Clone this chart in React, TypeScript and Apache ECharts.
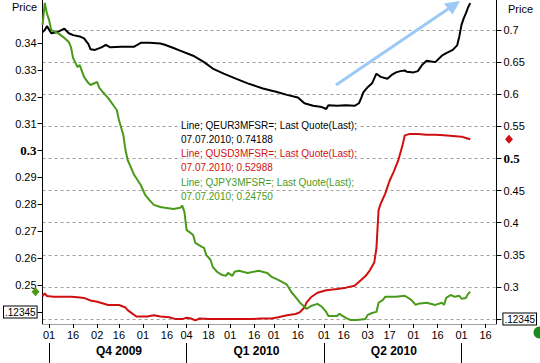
import React, { useEffect, useRef } from 'react';
import * as echarts from 'echarts';

// ---------- data ----------
const FIRST_DAY = '2009-09-28';
const LAST_DAY = '2010-07-23';
const HOLIDAYS = ['2009-12-24', '2009-12-25', '2009-12-31', '2010-01-01', '2010-04-02', '2010-04-05'];

function tradingDays(start: string, end: string, holidays: string[]): string[] {
  const out: string[] = [];
  const d = new Date(start + 'T00:00:00Z');
  const e = new Date(end + 'T00:00:00Z');
  while (d <= e) {
    const wd = d.getUTCDay();
    const s = d.toISOString().slice(0, 10);
    if (wd !== 0 && wd !== 6 && holidays.indexOf(s) < 0) out.push(s);
    d.setUTCDate(d.getUTCDate() + 1);
  }
  return out;
}
const categories = tradingDays(FIRST_DAY, LAST_DAY, HOLIDAYS);

const dayLabelDates = [
  '2009-10-01', '2009-10-16', '2009-11-02', '2009-11-16', '2009-12-01', '2009-12-16',
  '2010-01-04', '2010-01-18', '2010-02-01', '2010-02-16', '2010-03-01', '2010-03-16',
  '2010-04-01', '2010-04-16', '2010-05-03', '2010-05-17', '2010-06-01', '2010-06-16',
  '2010-07-01', '2010-07-16',
];
const quarterStartDates = ['2009-10-01', '2010-01-04', '2010-04-01', '2010-07-01'];
const quarterLabelDates = ['2009-11-16', '2010-02-17', '2010-05-19'];
const quarterLabels = ['Q4 2009', 'Q1 2010', 'Q2 2010'];

const leftTicks = [0.24, 0.25, 0.26, 0.27, 0.28, 0.29, 0.3, 0.31, 0.32, 0.33, 0.34];
const rightTicks = [0.25, 0.3, 0.35, 0.4, 0.45, 0.5, 0.55, 0.6, 0.65, 0.7];

// [trading-day index, value]
const eurPoints: [number, number][] = [
  [0, 0.697], [1, 0.700], [2, 0.706], [4, 0.695], [7, 0.697], [10, 0.702], [12, 0.695],
  [14, 0.692], [17, 0.690], [19, 0.687], [21, 0.678], [22, 0.670], [24, 0.669], [27, 0.673],
  [29, 0.677], [31, 0.673], [36, 0.674], [42, 0.674], [45, 0.680], [49, 0.680], [54, 0.679],
  [56, 0.677], [60, 0.672], [63, 0.668], [69, 0.660], [74, 0.650], [78, 0.640], [83, 0.632],
  [88, 0.625], [94, 0.617], [101, 0.609], [107, 0.604], [112, 0.599], [117, 0.595],
  [120, 0.586], [124, 0.582], [128, 0.580], [130, 0.577], [131, 0.583], [135, 0.582],
  [139, 0.583], [143, 0.582], [145, 0.586], [146, 0.594], [147, 0.603], [149, 0.611],
  [151, 0.617], [153, 0.632], [155, 0.627], [158, 0.624], [160, 0.630], [162, 0.634],
  [164, 0.636], [166, 0.637], [167, 0.635], [170, 0.634], [172, 0.636], [174, 0.646],
  [176, 0.652], [178, 0.651], [180, 0.650], [183, 0.660], [185, 0.664], [188, 0.669],
  [190, 0.676], [191, 0.690], [192, 0.708], [193, 0.718], [194, 0.726], [195, 0.735],
  [196, 0.74188],
];
const usdPoints: [number, number][] = [
  [0, 0.286], [1, 0.290], [2, 0.286], [5, 0.285], [9, 0.285], [13, 0.285], [16, 0.284],
  [19, 0.283], [22, 0.279], [25, 0.277], [27, 0.275], [30, 0.272], [35, 0.272], [38, 0.268],
  [39, 0.264], [41, 0.259], [43, 0.254], [48, 0.254], [51, 0.256], [54, 0.254], [58, 0.253],
  [61, 0.250], [64, 0.250], [66, 0.252], [68, 0.251], [70, 0.248], [72, 0.251], [76, 0.250],
  [87, 0.250], [96, 0.250], [100, 0.251], [105, 0.251], [108, 0.253], [112, 0.256],
  [116, 0.258], [118, 0.261], [120, 0.268], [121, 0.276], [123, 0.284], [126, 0.291],
  [130, 0.295], [135, 0.297], [139, 0.299], [143, 0.302], [146, 0.311], [148, 0.317],
  [150, 0.326], [152, 0.338], [153, 0.360], [154, 0.420], [155, 0.430], [157, 0.445],
  [159, 0.465], [161, 0.480], [163, 0.497], [165, 0.521], [166, 0.536], [168, 0.538],
  [172, 0.538], [176, 0.537], [180, 0.537], [184, 0.536], [188, 0.535], [192, 0.534],
  [194, 0.532], [196, 0.52988],
];
const jpyPoints: [number, number][] = [
  [0, 0.3467], [1, 0.3549], [2, 0.3510], [3, 0.3485], [4, 0.3448], [7, 0.3437], [10, 0.3419],
  [12, 0.3404], [13, 0.3385], [14, 0.3344], [16, 0.3311], [17, 0.3318], [19, 0.3274],
  [21, 0.3251], [22, 0.3244], [25, 0.3255], [26, 0.3233], [28, 0.3214], [30, 0.3196],
  [33, 0.3162], [34, 0.3151], [35, 0.3114], [37, 0.3058], [38, 0.3002], [39, 0.2965],
  [40, 0.2947], [42, 0.2909], [45, 0.2872], [47, 0.2835], [49, 0.2816], [51, 0.2798],
  [54, 0.2790], [56, 0.2787], [60, 0.2783], [63, 0.2787], [64, 0.2795], [65, 0.2772],
  [66, 0.2705], [69, 0.2686], [70, 0.2657], [73, 0.2642], [74, 0.2638], [75, 0.2612],
  [77, 0.2593], [78, 0.2567], [80, 0.2549], [82, 0.2538], [84, 0.2534], [85, 0.2545],
  [87, 0.2534], [88, 0.2549], [90, 0.2553], [94, 0.2545], [99, 0.2553], [103, 0.2545],
  [105, 0.2530], [108, 0.2519], [112, 0.2501], [114, 0.2474], [117, 0.2445], [118, 0.2434],
  [120, 0.2419], [121, 0.2411], [123, 0.2422], [126, 0.2430], [128, 0.2419], [130, 0.2400],
  [131, 0.2385], [135, 0.2385], [136, 0.2393], [139, 0.2378], [141, 0.2370], [144, 0.2370],
  [148, 0.2374], [149, 0.2389], [151, 0.2396], [153, 0.2400], [154, 0.2434], [156, 0.2445],
  [157, 0.2456], [162, 0.2456], [166, 0.2460], [169, 0.2445], [171, 0.2426], [172, 0.2430],
  [176, 0.2434], [180, 0.2426], [183, 0.2434], [184, 0.2426], [185, 0.2452], [187, 0.2463],
  [189, 0.2456], [191, 0.2460], [192, 0.2449], [194, 0.2452], [195, 0.2467], [196, 0.2475],
];

const legendLines = [
  { text: 'Line; QEUR3MFSR=; Last Quote(Last);', color: '#000000' },
  { text: '07.07.2010; 0.74188', color: '#000000' },
  { text: 'Line; QUSD3MFSR=; Last Quote(Last);', color: '#d01010' },
  { text: '07.07.2010; 0.52988', color: '#d01010' },
  { text: 'Line; QJPY3MFSR=; Last Quote(Last);', color: '#4a9a1a' },
  { text: '07.07.2010; 0.24750', color: '#4a9a1a' },
];

const BLACK = '#000000';
const RED = '#d01010';
const GREEN = '#4a9a1a';
const FONT = 'Liberation Sans, Arial, sans-serif';
const SERIF = 'Liberation Serif, Times New Roman, serif';

const richStyles = {
  box: {
    fontSize: 10, fontFamily: FONT, color: '#000', borderColor: '#000', borderWidth: 1,
    padding: [1, 1, 0, 1], backgroundColor: '#fff',
  },
  big: { fontSize: 13, fontWeight: 'bold', fontFamily: SERIF, color: '#000' },
};

function makeFmt(boxVal: number, bigVal: number) {
  return (v: number) => {
    const r = Math.round(v * 1000) / 1000;
    if (Math.abs(r - boxVal) < 1e-9) return '{box|.12345}';
    if (Math.abs(r - bigVal) < 1e-9) return '{big|' + String(r) + '}';
    return String(r);
  };
}

export default function App() {
  const ref = useRef<HTMLDivElement>(null);
  useEffect(() => {
    if (!ref.current) return;
    const chart = echarts.init(ref.current, undefined, { renderer: 'svg' });
    const daySet = new Set(dayLabelDates);
    const qStartSet = new Set(quarterStartDates);
    const option: any = {
      animation: false,
      backgroundColor: '#ffffff',
      grid: { left: 40, right: 37, top: 0, bottom: 39, containLabel: false },
      xAxis: [
        {
          type: 'category', data: categories, boundaryGap: false, position: 'bottom',
          axisLine: { show: true, lineStyle: { color: '#a0a0a0', width: 1 } },
          axisTick: {
            show: true, length: 4, interval: (i: number, v: string) => daySet.has(v),
            lineStyle: { color: '#000' },
          },
          axisLabel: {
            interval: (i: number, v: string) => daySet.has(v),
            formatter: (v: string) => v.slice(8),
            fontSize: 11, fontFamily: FONT, color: '#000', margin: 5,
          },
          splitLine: { show: false },
        },
        {
          type: 'category', data: categories, boundaryGap: false, position: 'bottom', offset: 19,
          axisLine: { show: false },
          axisTick: {
            show: true, length: 20, interval: (i: number, v: string) => qStartSet.has(v),
            lineStyle: { color: '#000' },
          },
          axisLabel: {
            interval: (i: number, v: string) => quarterLabelDates.indexOf(v) >= 0,
            formatter: (v: string) => {
              const k = quarterLabelDates.indexOf(v);
              return k >= 0 ? quarterLabels[k] : '';
            },
            fontSize: 12, fontWeight: 'bold', fontFamily: FONT, color: '#000', margin: 2,
          },
          splitLine: { show: false },
        },
      ],
      yAxis: [
        {
          type: 'value', position: 'left', min: 0.2355, max: 0.356, splitNumber: 12,
          minInterval: 0.01, maxInterval: 0.01,
          axisLine: { show: true, lineStyle: { color: '#000' } },
          axisTick: { show: true, length: 5, lineStyle: { color: '#000' }, customValues: leftTicks },
          splitLine: { show: false },
          axisLabel: {
            customValues: leftTicks, margin: 6,
            fontSize: 11, fontFamily: FONT, color: '#000',
            formatter: makeFmt(0.24, 0.3), rich: richStyles,
          },
        },
        {
          type: 'value', position: 'right', min: 0.2424, max: 0.7467, splitNumber: 10,
          minInterval: 0.05, maxInterval: 0.05,
          axisLine: { show: true, lineStyle: { color: '#000' } },
          axisTick: { show: true, length: 5, lineStyle: { color: '#000' }, customValues: rightTicks },
          splitLine: { show: true, lineStyle: { color: '#a0a0a0', type: [3, 3], width: 1 } },
          axisLabel: {
            customValues: rightTicks, margin: 7,
            fontSize: 11, fontFamily: FONT, color: '#000',
            formatter: makeFmt(0.25, 0.5), rich: richStyles,
          },
        },
      ],
      series: [
        {
          name: 'QEUR3MFSR=', type: 'line', xAxisIndex: 0, yAxisIndex: 1, data: eurPoints,
          showSymbol: false, lineStyle: { color: BLACK, width: 2 }, itemStyle: { color: BLACK },
        },
        {
          name: 'QUSD3MFSR=', type: 'line', xAxisIndex: 0, yAxisIndex: 1, data: usdPoints,
          showSymbol: false, lineStyle: { color: RED, width: 2 }, itemStyle: { color: RED },
        },
        {
          name: 'QJPY3MFSR=', type: 'line', xAxisIndex: 0, yAxisIndex: 0, data: jpyPoints,
          showSymbol: false, lineStyle: { color: GREEN, width: 2 }, itemStyle: { color: GREEN },
        },
      ],
    };
    chart.setOption(option);

    const lastJpy = jpyPoints[jpyPoints.length - 1][1];
    const lastUsd = usdPoints[usdPoints.length - 1][1];
    const yG = chart.convertToPixel({ yAxisIndex: 0 } as any, lastJpy) as number;
    const yR = chart.convertToPixel({ yAxisIndex: 1 } as any, lastUsd) as number;
    const diamond = (cx: number, cy: number, color: string) => ({
      type: 'polygon',
      shape: { points: [[cx, cy - 4.5], [cx + 4, cy], [cx, cy + 4.5], [cx - 4, cy]] },
      style: { fill: color },
      z: 100,
    });

    const graphics: any[] = [
      { type: 'text', left: 12, top: 1, style: { text: 'Price', fontSize: 11, fontFamily: FONT, fill: '#000' }, z: 100 },
      { type: 'text', left: 508, top: 3, style: { text: 'Price', fontSize: 11, fontFamily: FONT, fill: '#000' }, z: 100 },
      diamond(35.5, yG, GREEN),
      diamond(509, yR, RED),
      { type: 'circle', shape: { cx: 539.5, cy: 332.5, r: 6 }, style: { fill: '#1a8a1a' }, z: 100 },
      {
        type: 'line', shape: { x1: 336, y1: 85, x2: 448.4, y2: 8.85 },
        style: { stroke: '#9cc9f5', lineWidth: 3 }, z: 90,
      },
      {
        type: 'polygon', shape: { points: [[460, 1], [444, 3.6], [452.5, 14.4]] },
        style: { fill: '#9cc9f5' }, z: 90,
      },
    ];
    legendLines.forEach((ln, i) => {
      graphics.push({
        type: 'text', x: 181, y: 125 + i * 14.25,
        style: {
          text: ln.text, fontSize: 10, fontFamily: FONT, fill: ln.color,
          verticalAlign: 'middle', align: 'left', backgroundColor: '#fff',
        },
        z: 100,
      });
    });
    chart.setOption({ graphic: graphics });

    return () => { chart.dispose(); };
  }, []);
  return (
    <div
      ref={ref}
      style={{ position: 'fixed', left: 0, top: 0, width: 540, height: 363, background: '#fff' }}
    />
  );
}
